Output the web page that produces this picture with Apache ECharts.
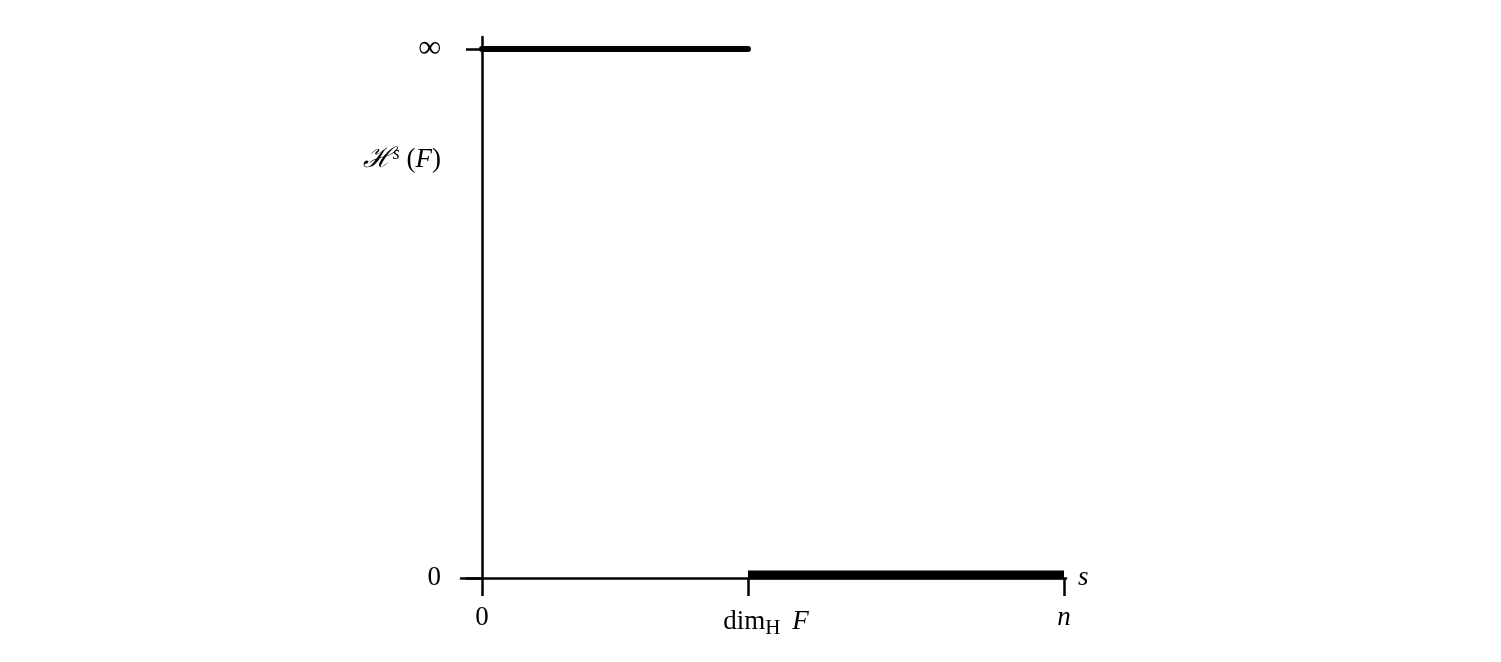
<!DOCTYPE html>
<html><head><meta charset="utf-8">
<script src="https://cdn.jsdelivr.net/npm/echarts@6/dist/echarts.min.js"></script>
<style>html,body{margin:0;padding:0;background:#fff}#c{width:1501px;height:662px}</style>
</head><body><div id="c"></div>
<script>
// s positions (n normalised to 1)
const sTicks = [0, 0.457, 1];
const sTickLabels = ['0', '{d|dim}{sub|H}{f|F}', '{i|n}'];
// Hausdorff measure levels: 0 and "infinity" (drawn at 1)
const yTicks = [0, 1];
const yTickLabels = ['0', '{inf|∞}'];
const yNameValue = 0.79;
const yNameLabel = '{h|ℋ}{sup|s}{r| (}{i|F}{r|)}';
// H^s(F) = infinity for s < dim_H F
const infSeg = [[0, 1], [0.457, 1]];
// H^s(F) = 0 for s > dim_H F
const zeroSeg = [[0.457, 0], [1, 0]];

const font = 'Liberation Serif';
const fs = 27;
const chart = echarts.init(document.getElementById('c'));
const xMin = -0.036, xMax = 1.0034, yMax = 1.0227;
chart.setOption({
  animation: false,
  grid: [
    {left: 461, right: 1501 - 1066, top: 37, bottom: 84},
    {left: 461, right: 1501 - 1066, top: 34, bottom: 87}
  ],
  xAxis: [{
    type: 'value', min: xMin, max: xMax, gridIndex: 0,
    axisLine: {show: true, lineStyle: {color: '#000', width: 2.5}},
    axisTick: {show: true, customValues: sTicks, inside: false, length: 18, lineStyle: {color: '#000', width: 2.5}},
    axisLabel: {
      customValues: sTicks, margin: 26, color: '#000',
      fontFamily: font, fontSize: fs,
      formatter: v => sTickLabels[sTicks.indexOf(v)],
      rich: {
        d: {fontFamily: font, fontSize: fs, color: '#000', padding: [0, 0, 0, 36]},
        sub: {fontFamily: font, fontSize: 21, color: '#000', verticalAlign: 'top', padding: [14, 0, 0, 0]},
        f: {fontFamily: font, fontSize: fs, fontStyle: 'italic', color: '#000', padding: [0, 0, 0, 12]},
        i: {fontFamily: font, fontSize: fs, fontStyle: 'italic', color: '#000'}
      }
    },
    splitLine: {show: false},
    name: 's', nameLocation: 'end', nameGap: 12,
    nameTextStyle: {fontFamily: font, fontSize: fs, fontStyle: 'italic', color: '#000'}
  }, {
    type: 'value', min: xMin, max: xMax, gridIndex: 1, show: false
  }],
  yAxis: [{
    type: 'value', min: 0, max: yMax, gridIndex: 0,
    axisLine: {show: true, onZero: true, lineStyle: {color: '#000', width: 2.5}},
    axisTick: {show: true, customValues: yTicks, length: 16, lineStyle: {color: '#000', width: 2.5}},
    axisLabel: {
      customValues: [0, yNameValue, 1], margin: 20, color: '#000',
      fontFamily: font, fontSize: fs,
      formatter: v => v === yNameValue ? yNameLabel : yTickLabels[yTicks.indexOf(v)],
      rich: {
        inf: {fontFamily: font, fontSize: 32, color: '#000'},
        h: {fontFamily: font, fontSize: 28, fontStyle: 'italic', color: '#000'},
        sup: {fontFamily: font, fontSize: 18, fontStyle: 'italic', color: '#000', verticalAlign: 'bottom', padding: [0, 0, 12, 0]},
        r: {fontFamily: font, fontSize: fs, color: '#000'},
        i: {fontFamily: font, fontSize: fs, fontStyle: 'italic', color: '#000'}
      }
    },
    splitLine: {show: false}
  }, {
    type: 'value', min: 0, max: yMax, gridIndex: 1, show: false
  }],
  series: [{
    type: 'line', data: infSeg, xAxisIndex: 0, yAxisIndex: 0,
    symbol: 'none', lineStyle: {color: '#000', width: 6, cap: 'round'}
  }, {
    type: 'line', data: zeroSeg, xAxisIndex: 1, yAxisIndex: 1,
    symbol: 'none', lineStyle: {color: '#000', width: 9, cap: 'butt'}
  }]
});
</script></body></html>
